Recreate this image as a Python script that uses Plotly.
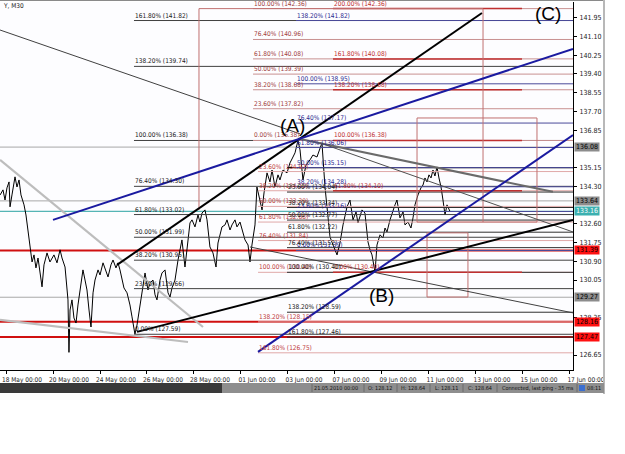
import plotly.graph_objects as go

# ---------------- data ----------------
# x = trading hours counted from 18 May 2010 00:00 (M30 chart), y = price
TICK_HOURS = [0, 48, 96, 144, 192, 240, 288, 336, 384, 432, 480, 528, 576]
TICK_TEXT = ["18 May 00:00", "20 May 00:00", "24 May 00:00", "26 May 00:00", "28 May 00:00",
             "01 Jun 00:00", "03 Jun 00:00", "07 Jun 00:00", "09 Jun 00:00", "11 Jun 00:00",
             "13 Jun 00:00", "15 Jun 00:00", "17 Jun 00:00"]
Y_TICKS = [141.95, 141.10, 140.25, 139.40, 138.55, 137.70, 136.85, 135.15, 134.30,
           132.60, 131.75, 130.90, 130.05, 128.35, 126.65]

PRICE_H = [-6.0, -3.1, -1.0, 1.0, 3.1, 4.1, 6.1, 9.2, 11.2, 13.3,
           15.3, 18.4, 20.4, 22.5, 24.5, 26.6, 28.6, 30.6, 32.7, 34.7,
           36.8, 38.8, 41.9, 44.9, 49.0, 52.1, 55.2, 57.2, 60.3, 63.3,
           64.3, 65.4, 67.4, 69.4, 71.5, 73.5, 75.6, 78.6, 80.7, 82.7,
           84.8, 86.8, 88.9, 90.9, 94.0, 96.0, 99.1, 102.1, 104.2, 107.2,
           109.3, 112.3, 114.4, 116.4, 118.5, 120.5, 123.6, 126.6, 128.7, 131.7,
           133.8, 136.9, 139.9, 142.0, 145.0, 147.1, 150.1, 152.2, 154.2, 157.3,
           159.3, 162.4, 165.5, 167.5, 169.5, 172.6, 175.7, 177.7, 179.7, 182.8,
           184.9, 187.9, 190.0, 193.0, 196.1, 198.1, 200.2, 203.2, 205.3, 208.3,
           211.4, 214.5, 216.5, 220.6, 223.7, 225.7, 228.8, 230.8, 233.9, 235.9,
           239.0, 242.0, 244.1, 247.2, 249.2, 251.2, 254.3, 256.3, 259.4, 261.5,
           263.5, 266.6, 269.6, 271.7, 274.7, 277.8, 279.8, 282.9, 287.0, 290.0,
           293.1, 295.2, 298.2, 300.3, 303.3, 306.4, 310.5, 313.5, 317.6, 320.7,
           322.7, 325.8, 328.9, 330.9, 334.0, 338.1, 341.1, 344.2, 348.3, 351.3,
           354.4, 357.5, 359.5, 363.6, 366.6, 369.7, 371.8, 373.8, 376.9, 378.9,
           382.0, 385.0, 387.1, 389.1, 392.2, 395.2, 397.3, 399.3, 402.4, 405.5,
           407.5, 410.6, 413.6, 415.7, 417.7, 420.8, 423.8, 425.9, 427.9, 430.0,
           432.0, 434.1, 436.1, 438.1, 440.2, 442.2, 444.3, 446.3, 448.4, 450.4,
           452.4, 453.5]
PRICE = [133.91, 134.14, 133.68, 134.23, 134.50, 133.37, 133.91, 134.73, 134.27, 134.59,
         133.91, 133.46, 133.00, 132.23, 131.42, 130.87, 131.19, 130.60, 131.05, 130.42,
         129.74, 130.74, 131.28, 130.87, 131.19, 130.83, 131.42, 131.05, 130.64, 129.15,
         126.77, 128.69, 129.15, 128.33, 128.10, 128.92, 129.60, 130.51, 130.05, 129.60,
         128.69, 127.92, 129.47, 130.05, 130.51, 130.28, 130.83, 130.42, 130.19, 130.74,
         130.96, 130.60, 130.83, 130.51, 130.05, 129.69, 129.47, 128.92, 128.38, 127.59,
         128.01, 128.83, 129.83, 130.37, 129.60, 129.92, 130.05, 129.38, 129.15, 130.05,
         130.37, 130.51, 129.47, 129.28, 129.69, 130.05, 130.96, 131.42, 131.87, 130.64,
         131.55, 132.64, 132.78, 132.46, 133.00, 132.68, 133.09, 133.23, 132.78, 131.55,
         131.28, 130.64, 131.73, 132.46, 132.55, 132.78, 132.32, 132.55, 132.78, 132.46,
         132.68, 132.19, 131.87, 131.64, 130.87, 131.64, 132.55, 134.27, 133.68, 133.23,
         134.00, 134.91, 134.50, 135.04, 134.27, 134.82, 134.59, 135.04, 134.91, 135.36,
         135.63, 135.82, 136.38, 135.95, 134.59, 135.27, 135.50, 135.72, 135.63, 136.09,
         136.27, 134.27, 132.78, 132.01, 131.64, 131.19, 131.73, 132.55, 133.37, 133.68,
         132.78, 133.14, 132.64, 133.23, 133.09, 131.78, 131.42, 131.19, 130.40, 131.64,
         132.10, 131.96, 132.41, 132.23, 132.78, 133.23, 133.46, 133.68, 132.87, 133.14,
         132.55, 132.68, 132.41, 132.87, 133.46, 133.91, 134.23, 134.36, 134.68, 134.50,
         134.82, 134.68, 135.04, 134.77, 135.18, 134.68, 134.27, 133.68, 133.00, 133.46,
         133.23, 133.16]
assert len(PRICE_H) == len(PRICE)

# trend lines: (hour0, price0, hour1, price1)
TL_BLACK_UP = (113.4, 130.74, 486.1, 142.16)
TL_BLACK_LOW = (133.8, 127.70, 579.1, 132.78)
TL_BLUE_UP = (48.0, 132.78, 579.1, 140.53)
TL_BLUE_LOW = (257.4, 126.79, 579.1, 136.63)
TL_GRAY_1 = (-6.1, 135.50, 201.2, 127.92)
TL_GRAY_2 = (-6.1, 128.24, 185.9, 127.24)
TL_THIN_1 = (-6.1, 141.39, 300.3, 136.68)
TL_DGRAY = (300.3, 136.45, 558.6, 134.05)
TL_THIN_2 = (320.7, 136.27, 579.1, 132.23)
TL_THIN_3 = (249.2, 131.55, 579.1, 128.56)

# Fibonacci tools: start hour, percentages, prices
FIB1_START = 130.7
FIB1_PCT = [161.8, 138.2, 100.0, 76.4, 61.8, 50.0, 38.2, 23.6, 0.0]
FIB1_PRICE = [141.82, 139.74, 136.38, 134.30, 133.02, 131.99, 130.95, 129.66, 127.59]

FIB2_START = 252.3
FIB2_PCT = [100.0, 76.4, 61.8, 50.0, 38.2, 23.6, 0.0]
FIB2_PRICE = [142.36, 140.96, 140.08, 139.39, 138.68, 137.82, 136.38]

FIB3_START, FIB3_END = 334.0, 527.0
FIB3_PCT = [200.0, 161.8, 138.2, 100.0, 61.8, 0.0]
FIB3_PRICE = [142.36, 140.08, 138.68, 136.38, 134.10, 130.40]

FIB4_START = 296.2
FIB4_PCT = [138.2, 100.0, 76.4, 61.8, 50.0, 38.2, 23.6, 0.0]
FIB4_PRICE = [141.82, 138.95, 137.17, 136.06, 135.15, 134.28, 133.16, 131.39]

FIB5_START = 257.4
FIB5_PCT = [23.6, 38.2, 50.0, 61.8, 76.4, 100.0, 138.2, 161.8]
FIB5_PRICE = [134.97, 134.10, 133.39, 132.68, 131.84, 130.40, 128.15, 126.75]

FIB6_START = 287.0
FIB6_TOP = 135.15
FIB6_PCT = [23.6, 38.2, 50.0, 61.8, 76.4, 100.0, 138.2, 161.8]
FIB6_PRICE = [134.04, 133.34, 132.77, 132.22, 131.52, 130.40, 128.59, 127.46]

# full-width horizontal levels (marked on the price scale)
LEVELS = [136.08, 133.64, 133.16, 131.39, 129.27, 128.16, 127.47]

# rectangles / vertical markers (hour0, price0, hour1, price1)
RECT_TOP = (197.1, 142.36, 487.2, 142.36)
VLINE_1 = (197.1, 142.36, 197.1, 133.23)
VLINE_2 = (487.2, 142.36, 487.2, 132.68)
RECT_A = (419.8, 137.40, 542.3, 132.68)
RECT_B = (430.0, 132.19, 471.8, 129.28)

# wave labels (hour, price)
WAVES = [("(A)", 293.1, 137.04), ("(B)", 383.0, 129.33), ("(C)", 553.5, 142.16)]

STATUS = ["21.05.2010 00:00", "O: 128.12", "H: 128.64", "L: 128.11", "C: 128.64",
          "Connected, last ping - 35 ms", "08:11"]

# ---------------- styles ----------------
X_RANGE = [-6.13, 579.1]
Y_RANGE = [125.97, 142.66]
NARROW = "Liberation Sans Narrow, DejaVu Sans Condensed, Arial Narrow, sans-serif"
SANS = "Liberation Sans, Arial, sans-serif"
W, H = 625, 454
PL, PR, PT, PB = 0, 573, 2, 370  # plot area in pixels


def px(x):
    return (x - PL) / (PR - PL)


def py(y):
    return (PB - y) / (PB - PT)


fig = go.Figure()
fig.add_trace(go.Scatter(x=PRICE_H, y=PRICE, mode="lines",
                         line=dict(color="#000000", width=1), hoverinfo="skip"))


def seg(t, color, width, dash="solid"):
    fig.add_shape(type="line", xref="x", yref="y", x0=t[0], y0=t[1], x1=t[2], y1=t[3],
                  line=dict(color=color, width=width, dash=dash), layer="above")


def label(x, y, text, color, size=6.5, family=NARROW, xanchor="left", yanchor="bottom"):
    fig.add_annotation(x=x, y=y, xref="x", yref="y", text=text, showarrow=False,
                       xanchor=xanchor, yanchor=yanchor, font=dict(size=size, color=color, family=family),
                       borderpad=0)


def fmt(p, v):
    return f"{p:.2f}% ({v:.2f})"


# full-width levels
level_styles = [("#a8a8a8", 1), ("#a8a8a8", 1), ("#55b5b5", 1.2), ("#d01010", 2),
                ("#a8a8a8", 1), ("#d01010", 2), ("#d01010", 2)]
for v, (c, w) in zip(LEVELS, level_styles):
    fig.add_shape(type="line", xref="paper", yref="y", x0=0, x1=1, y0=v, y1=v,
                  line=dict(color=c, width=w), layer="below")

# fib lines
for v in FIB1_PRICE:
    seg((FIB1_START, v, X_RANGE[1], v), "#404040", 1)
for v in FIB2_PRICE:
    seg((FIB2_START, v, X_RANGE[1], v), "#c89090", 1)
for v in FIB5_PRICE:
    seg((FIB5_START, v, X_RANGE[1], v), "#e0a8a8", 1)
for v in FIB6_PRICE:
    seg((FIB6_START, v, X_RANGE[1], v), "#303030", 1)
seg((FIB6_START, FIB6_TOP, X_RANGE[1], FIB6_TOP), "#101010", 1.3)
for v in FIB4_PRICE:
    seg((FIB4_START, v, X_RANGE[1], v), "#4a4a9a", 1)
for v in FIB3_PRICE:
    seg((FIB3_START, v, FIB3_END, v), "#c03030", 1.5)

# rectangles and markers
for t in (RECT_TOP, VLINE_1, VLINE_2):
    seg(t, "#c07070", 1)
for r in (RECT_A, RECT_B):
    fig.add_shape(type="rect", xref="x", yref="y", x0=r[0], y0=r[1], x1=r[2], y1=r[3],
                  line=dict(color="#c07070", width=1), fillcolor="rgba(0,0,0,0)")

# trend lines
seg(TL_GRAY_1, "#bdbdbd", 2.2)
seg(TL_GRAY_2, "#bdbdbd", 2.2)
seg(TL_THIN_1, "#404040", 1)
seg(TL_DGRAY, "#6a6a6a", 2)
seg(TL_THIN_2, "#505050", 1)
seg(TL_THIN_3, "#404040", 1)
seg(TL_BLACK_UP, "#000000", 2)
seg(TL_BLACK_LOW, "#000000", 2)
seg(TL_BLUE_UP, "#1a1aa0", 2)
seg(TL_BLUE_LOW, "#1a1aa0", 2)

# fib labels
for p, v in zip(FIB1_PCT, FIB1_PRICE):
    label(FIB1_START, v, fmt(p, v), "#202020")
for p, v in zip(FIB2_PCT, FIB2_PRICE):
    label(FIB2_START, v, fmt(p, v), "#a04040")
for p, v in zip(FIB3_PCT, FIB3_PRICE):
    label(FIB3_START, v, fmt(p, v), "#c03030")
for p, v in zip(FIB4_PCT, FIB4_PRICE):
    label(FIB4_START, v, fmt(p, v), "#2a2a90")
for p, v in zip(FIB5_PCT, FIB5_PRICE):
    label(FIB5_START, v, fmt(p, v), "#c04040")
for p, v in zip(FIB6_PCT, FIB6_PRICE):
    label(FIB6_START, v, fmt(p, v), "#202020")

for t, hx, pv in WAVES:
    label(hx, pv, t, "#000000", size=19, family=SANS, xanchor="center", yanchor="middle")

# price-scale marker boxes
box_styles = [("#8c8c8c", "#000"), ("#8c8c8c", "#000"), ("#3bb0b0", "#fff"), ("#ff1010", "#000"),
              ("#8c8c8c", "#000"), ("#ff1010", "#000"), ("#ff1010", "#000")]
for v, (bg, fc) in zip(LEVELS, box_styles):
    fig.add_annotation(x=1, y=v, xref="paper", yref="y", text=f"{v:.2f}", showarrow=False,
                       xanchor="left", yanchor="middle", xshift=1, bgcolor=bg, width=24, height=8,
                       borderpad=0, font=dict(size=7, color=fc, family=NARROW))

# window chrome
fig.add_annotation(x=px(1), y=py(6), xref="paper", yref="paper", text="Y, M30", showarrow=False,
                   xanchor="left", yanchor="middle", font=dict(size=6.5, color="#202020", family=NARROW))
fig.add_shape(type="line", xref="paper", yref="paper", x0=px(0), x1=px(603), y0=py(0.5), y1=py(0.5),
              line=dict(color="#8a8a8a", width=1))
fig.add_shape(type="line", xref="paper", yref="paper", x0=px(604), x1=px(604), y0=py(0), y1=py(394),
              line=dict(color="#b8b8b8", width=2))
fig.add_shape(type="rect", xref="paper", yref="paper", x0=px(0), x1=px(222), y0=py(393), y1=py(383),
              line=dict(width=0), fillcolor="#3a3a3a")
fig.add_shape(type="rect", xref="paper", yref="paper", x0=px(222), x1=px(604), y0=py(393), y1=py(383),
              line=dict(width=0), fillcolor="#8e8e8e")
status_x = [336, 380, 413, 446, 480, 538, 594]
for sx, st in zip(status_x, STATUS):
    fig.add_annotation(x=px(sx), y=py(388), xref="paper", yref="paper", text=st, showarrow=False,
                       xanchor="center", yanchor="middle", font=dict(size=5.5, color="#151515", family=NARROW))
for sx in [312, 364, 397, 430, 463, 497, 577]:
    fig.add_shape(type="line", xref="paper", yref="paper", x0=px(sx), x1=px(sx), y0=py(392), y1=py(384),
                  line=dict(color="#6a6a6a", width=1))
fig.add_shape(type="rect", xref="paper", yref="paper", x0=px(579), x1=px(585), y0=py(391), y1=py(385),
              line=dict(width=0), fillcolor="#3b6fd0")

fig.update_layout(
    width=W, height=H, template="none",
    margin=dict(l=PL, r=W - PR, t=PT, b=H - PB, autoexpand=False),
    paper_bgcolor="#ffffff", plot_bgcolor="#fdfdff", showlegend=False, hovermode=False,
    xaxis=dict(range=X_RANGE, tickvals=TICK_HOURS, ticktext=TICK_TEXT, ticks="outside", ticklen=3,
               tickcolor="#000", showgrid=False, zeroline=False, showline=True, linecolor="#000",
               linewidth=1, automargin=False, ticklabelshift=16, ticklabelstandoff=0,
               tickfont=dict(size=6.5, color="#222", family=NARROW)),
    yaxis=dict(range=Y_RANGE, side="right", tickvals=Y_TICKS, ticktext=[f"{v:.2f}" for v in Y_TICKS],
               ticks="outside", ticklen=3, tickcolor="#000", showgrid=False, zeroline=False,
               showline=True, linecolor="#000", linewidth=1, automargin=False, ticklabelstandoff=1,
               tickfont=dict(size=7, color="#222", family=NARROW)),
)

fig.write_html("out.html")
